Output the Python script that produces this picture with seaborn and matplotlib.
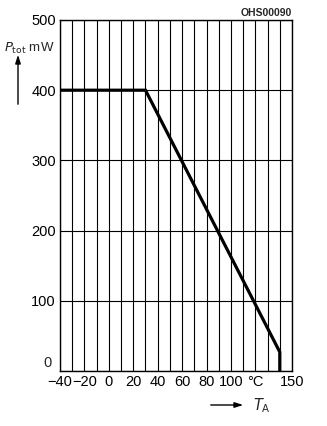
import matplotlib
matplotlib.use("Agg")
import matplotlib.pyplot as plt
import seaborn as sns
import pandas as pd
from matplotlib import font_manager

# Data
temps = [-40, 30, 140, 140]
ptot = [400, 400, 27, 0]
x_tick_values = list(range(-40, 151, 10))
x_tick_labels = ["\u221240", "", "\u221220", "", "0", "", "20", "", "40", "", "60", "",
                 "80", "", "100", "", "°C", "", "", "150"]
y_tick_values = [0, 100, 200, 300, 400, 500]
y_tick_labels = ["", "100", "200", "300", "400", "500"]

sns.set_style("white")
names = {f.name for f in font_manager.fontManager.ttflist}
fam = "Liberation Sans Narrow" if "Liberation Sans Narrow" in names else "Liberation Sans"
plt.rcParams["font.family"] = [fam, "DejaVu Sans"]

df = pd.DataFrame({"T": temps, "P": ptot})

fig = plt.figure(figsize=(3.27, 4.26), dpi=100)
W, H = 327, 426
ax = fig.add_axes([60 / W, (H - 371) / H, (292 - 60) / W, (371 - 20) / H])

sns.lineplot(data=df, x="T", y="P", sort=False, estimator=None, color="black",
             linewidth=2.3, ax=ax, solid_joinstyle="miter", zorder=5)

ax.set_xlim(-40, 150)
ax.set_ylim(0, 500)
ax.set_xticks(x_tick_values)
ax.set_xticklabels(x_tick_labels)
ax.set_yticks(y_tick_values)
ax.set_yticklabels(y_tick_labels)
ax.grid(True, color="black", linewidth=0.8)
ax.tick_params(length=0, labelsize=10.5, pad=3, colors="black")
ax.set_xlabel("")
ax.set_ylabel("")
for s in ax.spines.values():
    s.set_color("black")
    s.set_linewidth(1.0)

fs = 10.5
fig.text(52 / W, 1 - 363 / H, "0", ha="right", va="center", fontsize=fs)
fig.text(54 / W, 1 - 48 / H, "$\\mathit{P}_{\\mathrm{tot}}$ mW", ha="right", va="center", fontsize=9.5)
fig.text(292 / W, 1 - 13 / H, "OHS00090", ha="right", va="center", fontsize=7.5,
         fontweight="bold")
fig.text(253 / W, 1 - 406 / H, "$\\mathit{T}_{\\mathrm{A}}$", ha="left", va="center", fontsize=fs)

fig.patches.append(matplotlib.patches.FancyArrowPatch(
    (18 / W, 1 - 107 / H), (18 / W, 1 - 52 / H), transform=fig.transFigure,
    arrowstyle="-|>,head_length=5,head_width=1.6", color="black", linewidth=1.0))
fig.patches.append(matplotlib.patches.FancyArrowPatch(
    (208 / W, 1 - 405 / H), (246 / W, 1 - 405 / H), transform=fig.transFigure,
    arrowstyle="-|>,head_length=5,head_width=1.6", color="black", linewidth=1.0))

fig.savefig("out.png", dpi=100)
